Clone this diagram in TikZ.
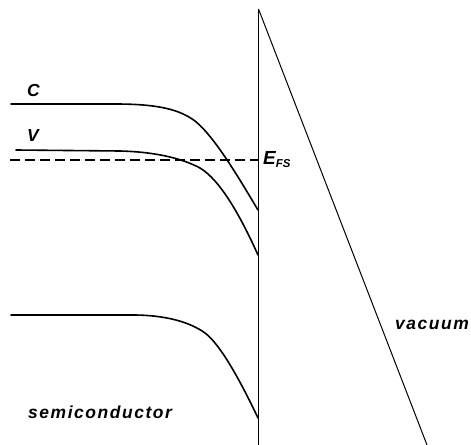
\documentclass[tikz,border=0pt]{standalone}
\usepackage{fontspec}
\setmainfont{Liberation Sans}
\begin{document}
\begin{tikzpicture}[x=1bp,y=-1bp,
  band/.style={line width=1.6bp, line cap=round},
  thin/.style={line width=1bp},
  lbl/.style={inner sep=0pt, anchor=base west, font=\fontsize{17.5}{20}\selectfont\bfseries\itshape},
  spaced/.style={inner sep=0pt, anchor=base west, font=\fontsize{17.5}{20}\selectfont\bfseries\itshape\addfontfeature{LetterSpace=9}}]
\useasboundingbox (0,0) rectangle (471,445);
\coordinate (top) at (258.5,9);
\coordinate (bot) at (258.5,445);
\coordinate (vend) at (427,445);
\draw[thin] (top) -- (bot);
\draw[thin] (top) -- (vend);
\coordinate (c0) at (11,104);
\coordinate (c1) at (258,210);
\draw[band] (c0) -- (115,104) .. controls (160,104) and (180,110) .. (195,121) .. controls (215,137) and (240,180) .. (c1);
\coordinate (v0) at (16,150);
\coordinate (v1) at (258,255);
\draw[band] (v0) -- (120,151) .. controls (160,152) and (185,160) .. (200,168) .. controls (220,180) and (240,215) .. (v1);
\coordinate (b0) at (11,315);
\coordinate (b1) at (258,418);
\draw[band] (b0) -- (133,315) .. controls (165,315) and (190,322) .. (205,333) .. controls (220,344) and (240,380) .. (b1);
\coordinate (f0) at (10,160);
\coordinate (f1) at (258,160);
\draw[line width=1.7bp, dash pattern=on 10bp off 5bp] (f0) -- (f1);
\node[lbl] (C) at (27,97) {C};
\node[lbl] (V) at (27,142) {V};
\node[lbl, font=\fontsize{19}{21}\selectfont\bfseries\itshape] (E) at (263,165) {E\raisebox{-2.5bp}{\fontsize{11.5}{12}\selectfont FS}};
\node[spaced] (semi) at (28,418) {semiconductor};
\node[spaced] (vac) at (395,329) {vacuum};
\end{tikzpicture}
\end{document}
